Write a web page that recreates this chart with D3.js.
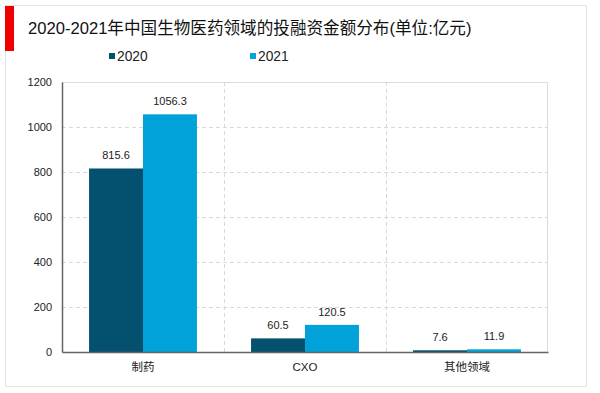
<!DOCTYPE html>
<html>
<head>
<meta charset="utf-8">
<script src="https://cdn.jsdelivr.net/npm/d3@7"></script>
<style>
  body { margin: 0; background: #fff; }
  text { font-family: "Liberation Sans", Arial, "Noto Sans CJK SC", sans-serif; }
</style>
</head>
<body>
<div id="chart"></div>
<script>
var categories = ["制药", "CXO", "其他领域"];
var years = ["2020", "2021"];
var values2020 = [815.6, 60.5, 7.6];
var values2021 = [1056.3, 120.5, 11.9];
var yTicks = [0, 200, 400, 600, 800, 1000, 1200];

var colors = {"2020": "#03506f", "2021": "#00a2d9"};

var W = 600, H = 393;
var margin = {top: 82, right: 52, bottom: 41, left: 62},
    width = W - margin.left - margin.right,
    height = H - margin.top - margin.bottom;

var svg = d3.select("#chart")
  .append("svg")
    .attr("width", W)
    .attr("height", H);

// outer frame
svg.append("rect")
  .attr("x", 5.5).attr("y", 5.5)
  .attr("width", 581).attr("height", 381)
  .attr("fill", "none")
  .attr("stroke", "#e3e3e3");

// red marker
svg.append("rect")
  .attr("x", 5).attr("y", 6)
  .attr("width", 9).attr("height", 45)
  .attr("fill", "#ee0000");

svg.append("text")
  .attr("x", 28).attr("y", 34)
  .attr("font-size", "16.6px")
  .attr("fill", "#111")
  .text("2020-2021年中国生物医药领域的投融资金额分布(单位:亿元)");

// legend
var legendX = [109, 250];
years.forEach(function(yr, i) {
  svg.append("rect")
    .attr("x", legendX[i]).attr("y", 53)
    .attr("width", 6).attr("height", 6)
    .attr("fill", colors[yr]);
  svg.append("text")
    .attr("x", legendX[i] + 8).attr("y", 61)
    .attr("font-size", "13.8px")
    .attr("fill", "#222")
    .text(yr);
});

var g = svg.append("g")
  .attr("transform", "translate(" + margin.left + "," + margin.top + ")");

var x0 = d3.scaleBand()
  .domain(categories)
  .range([0, width])
  .paddingInner(0)
  .paddingOuter(0);

var x1 = d3.scaleBand()
  .domain(years)
  .range([x0.bandwidth() * 0.167, x0.bandwidth() * 0.833]);

var y = d3.scaleLinear()
  .domain([0, 1200])
  .range([height, 0]);

// horizontal gridlines
g.append("g")
  .selectAll("line")
  .data(yTicks.filter(function(d) { return d > 0 && d < 1200; }))
  .enter()
  .append("line")
    .attr("x1", 0).attr("x2", width)
    .attr("y1", function(d) { return Math.round(y(d)) + 0.5; })
    .attr("y2", function(d) { return Math.round(y(d)) + 0.5; })
    .attr("stroke", "#d9d9d9")
    .attr("stroke-dasharray", "4,3");

// vertical dividers
g.append("g")
  .selectAll("line")
  .data(categories.slice(1))
  .enter()
  .append("line")
    .attr("x1", function(d) { return Math.round(x0(d)) + 0.5; })
    .attr("x2", function(d) { return Math.round(x0(d)) + 0.5; })
    .attr("y1", 0).attr("y2", height)
    .attr("stroke", "#d9d9d9")
    .attr("stroke-dasharray", "4,3");

// top and right frame of plot
g.append("path")
  .attr("d", "M0,0.5H" + (width - 0.5) + "V" + height)
  .attr("fill", "none")
  .attr("stroke", "#dcdcdc");

// bars
var rows = categories.map(function(c, i) {
  return {cat: c, vals: [{yr: "2020", v: values2020[i]}, {yr: "2021", v: values2021[i]}]};
});

var groups = g.selectAll(".grp")
  .data(rows)
  .enter()
  .append("g")
    .attr("transform", function(d) { return "translate(" + x0(d.cat) + ",0)"; });

groups.selectAll("rect")
  .data(function(d) { return d.vals; })
  .enter()
  .append("rect")
    .attr("x", function(d) { return x1(d.yr); })
    .attr("y", function(d) { return y(d.v); })
    .attr("width", x1.bandwidth())
    .attr("height", function(d) { return height - y(d.v); })
    .attr("fill", function(d) { return colors[d.yr]; });

groups.selectAll("text")
  .data(function(d) { return d.vals; })
  .enter()
  .append("text")
    .attr("x", function(d) { return x1(d.yr) + x1.bandwidth() / 2; })
    .attr("y", function(d) { return y(d.v) - 9; })
    .attr("text-anchor", "middle")
    .attr("font-size", "11px")
    .attr("fill", "#222")
    .text(function(d) { return d.v.toFixed(1); });

// y axis
var yAxis = g.append("g")
  .call(d3.axisLeft(y).tickValues(yTicks).tickFormat(d3.format("d")).tickSize(0).tickPadding(10));
yAxis.select(".domain").attr("stroke", "#666").attr("stroke-width", 1.5);
yAxis.selectAll("text").attr("font-size", "11px").attr("fill", "#222")
  .style("font-family", "'Liberation Sans', Arial, sans-serif");

// x axis
var xAxis = g.append("g")
  .attr("transform", "translate(0," + height + ")")
  .call(d3.axisBottom(x0).tickSize(0).tickPadding(11));
xAxis.select(".domain").attr("stroke", "#666").attr("stroke-width", 1.5);
xAxis.selectAll("text").attr("font-size", "11.5px").attr("fill", "#222")
  .style("font-family", "'Liberation Sans', Arial, 'Noto Sans CJK SC', sans-serif");
</script>
</body>
</html>
